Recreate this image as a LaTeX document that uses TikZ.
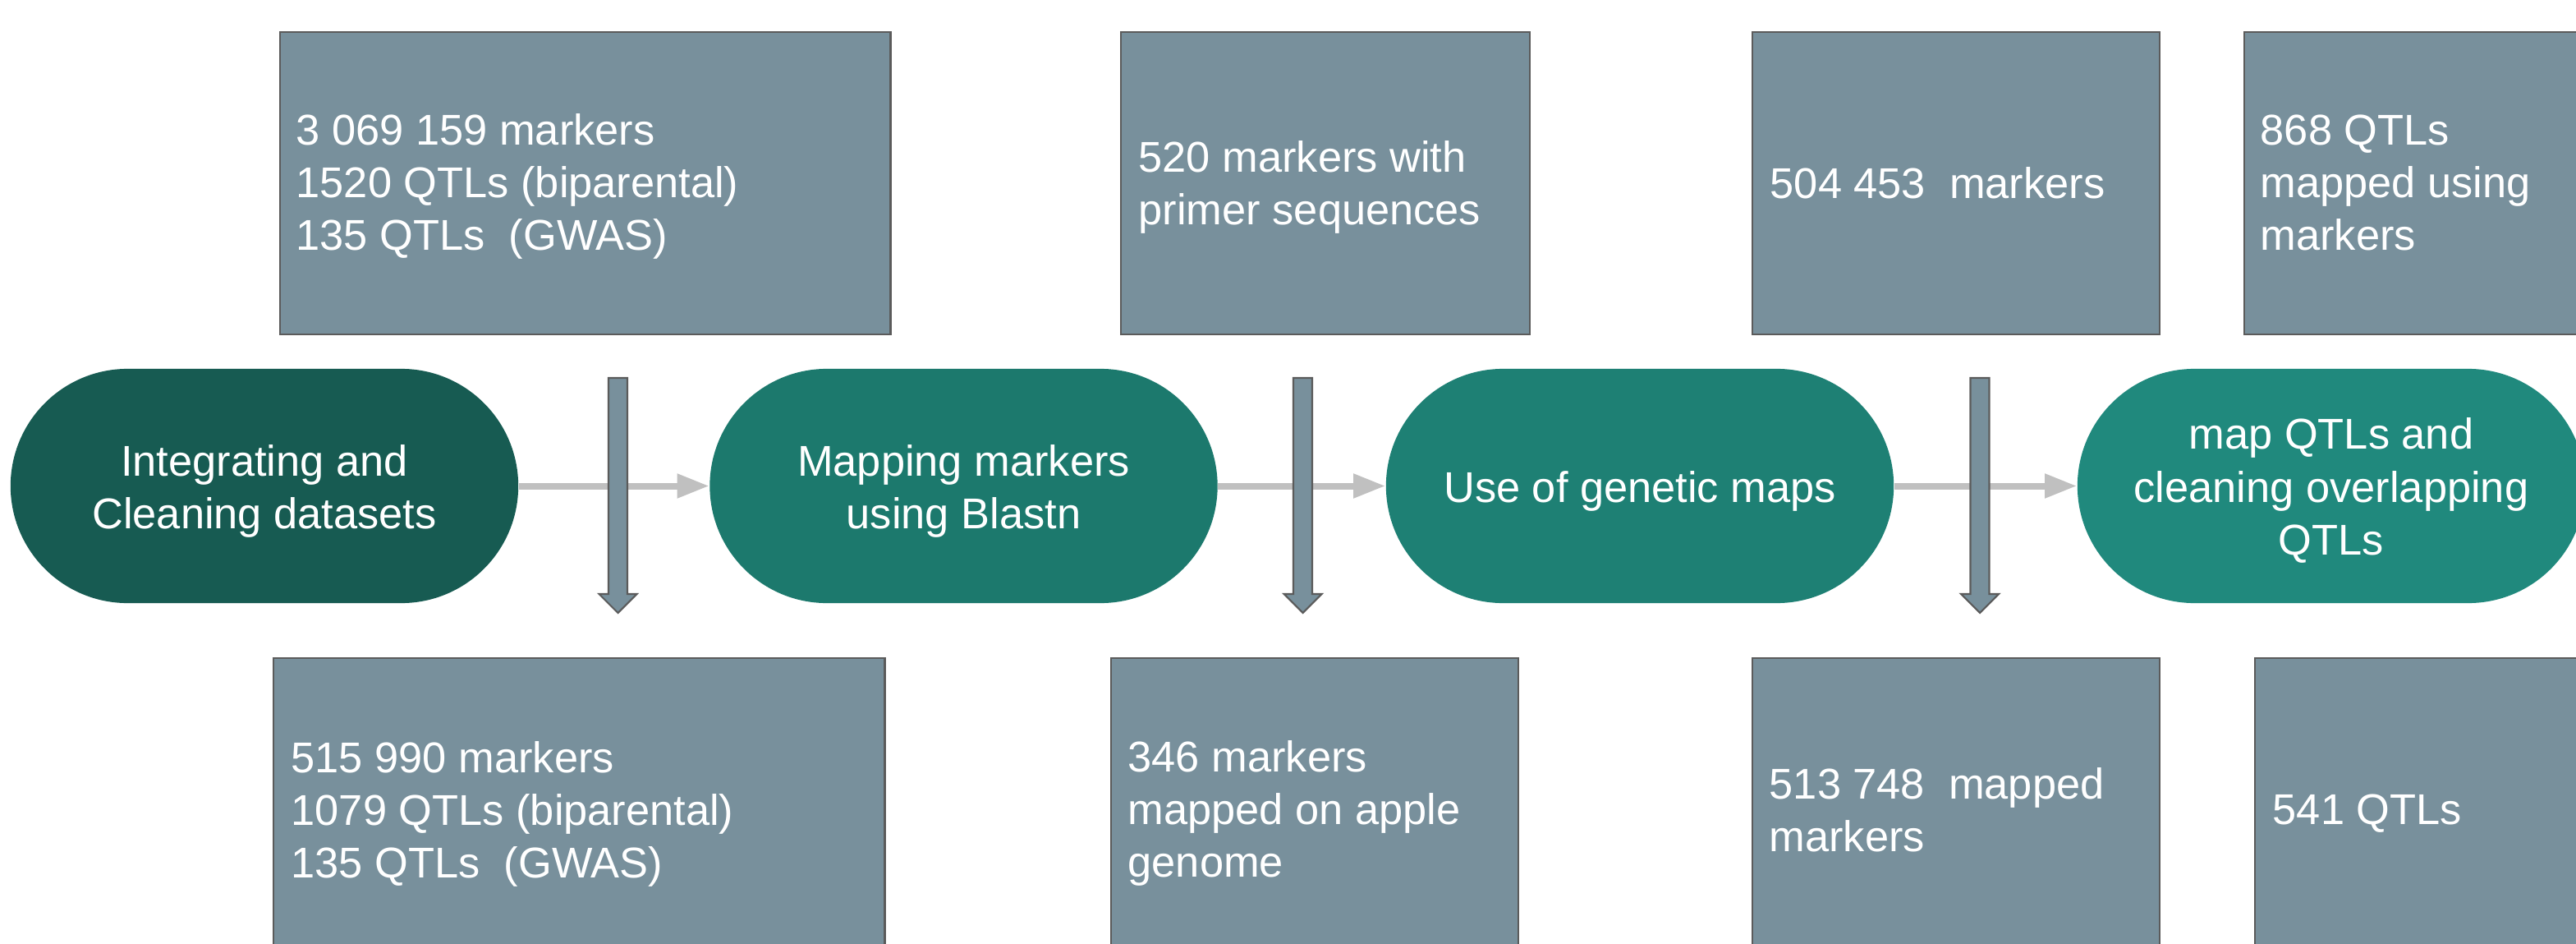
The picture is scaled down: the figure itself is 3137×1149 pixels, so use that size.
\documentclass[tikz,border=0pt]{standalone}
\usepackage{fontspec}
\setmainfont{Liberation Sans}
\usetikzlibrary{arrows.meta}
\definecolor{boxfill}{HTML}{78909C}
\definecolor{boxline}{HTML}{5B5B5B}
\definecolor{flowgrey}{HTML}{C0C0C0}
\definecolor{tealA}{HTML}{175B52}
\definecolor{tealB}{HTML}{1C796D}
\definecolor{tealC}{HTML}{1E8074}
\definecolor{tealD}{HTML}{20897D}
\begin{document}
\begin{tikzpicture}[x=0.01cm,y=-0.01cm,
  txt/.style={font=\fontsize{14.9pt}{18.2pt}\selectfont, text=white, inner sep=0pt},
  boxtxt/.style={txt, align=left, anchor=base west},
  stagetxt/.style={txt, align=center, anchor=base},
  databox/.style={draw=boxline, line width=0.6pt, fill=boxfill, rectangle,
    minimum height=3.68cm, inner sep=0pt, anchor=north west},
  stage/.style={rectangle, rounded corners=1.425cm, minimum width=6.18cm,
    minimum height=2.85cm, inner sep=0pt},
  flow/.style={draw=flowgrey, line width=0.08cm, -{Triangle[length=0.39cm,width=0.28cm]}},
  downarrow/.style={draw=boxline, line width=0.6pt, fill=boxfill, line join=miter}
]
\useasboundingbox (0,0) rectangle (3137,1149);
\clip (0,0) rectangle (3137,1149);

% process stages
\node[stage, fill=tealA] (s1) at (322,591.5) {};
\node[stage, fill=tealB] (s2) at (1173.5,591.5) {};
\node[stage, fill=tealC] (s3) at (1997,591.5) {};
\node[stage, fill=tealD] (s4) at (2839,591.5) {};
% (base anchor = baseline of the last line)
\node[stagetxt] (s1x) at (322,643) {Integrating and\\Cleaning datasets};
\node[stagetxt] (s2x) at (1173.5,643) {Mapping markers\\using Blastn};
\node[stagetxt] (s3x) at (1997,611) {Use of genetic maps};
\node[stagetxt] (s4x) at (2839,675) {map QTLs and\\cleaning overlapping\\QTLs};

% flow connectors
\draw[flow] (s1.east) -- (s2.west);
\draw[flow] (s2.east) -- (s3.west);
\draw[flow] (s3.east) -- (s4.west);

% vertical block arrows
\foreach \cx in {752.5,1586.5,2411}{
  \draw[downarrow] ({\cx-11.5},460) -- ({\cx+11.5},460) -- ({\cx+11.5},723) -- ({\cx+23},723)
    -- (\cx,746) -- ({\cx-23},723) -- ({\cx-11.5},723) -- cycle;
}

% top boxes
\node[databox, minimum width=7.43cm] (t1) at (340,38) {};
\node[databox, minimum width=4.98cm] (t2) at (1364,38) {};
\node[databox, minimum width=4.96cm] (t3) at (2133,38) {};
\node[databox, minimum width=4.96cm] (t4) at (2732,38) {};
\node[boxtxt] (t1x) at (360,305) {3 069 159 markers\\1520 QTLs (biparental)\\135 QTLs\ \ (GWAS)};
\node[boxtxt] (t2x) at (1386,274) {520 markers with\\primer sequences};
\node[boxtxt] (t3x) at (2155,242) {504 453\ \ markers};
\node[boxtxt] (t4x) at (2752,305) {868 QTLs\\mapped using\\markers};

% bottom boxes
\node[databox, minimum width=7.44cm] (b1) at (332,800) {};
\node[databox, minimum width=4.96cm] (b2) at (1352,800) {};
\node[databox, minimum width=4.96cm] (b3) at (2133,800) {};
\node[databox, minimum width=4.96cm] (b4) at (2745,800) {};
\node[boxtxt] (b1x) at (354,1068) {515 990 markers\\1079 QTLs (biparental)\\135 QTLs\ \ (GWAS)};
\node[boxtxt] (b2x) at (1373,1067) {346 markers\\mapped on apple\\genome};
\node[boxtxt] (b3x) at (2154,1036) {513 748\ \ mapped\\markers};
\node[boxtxt] (b4x) at (2767,1003) {541 QTLs};
\end{tikzpicture}
\end{document}
